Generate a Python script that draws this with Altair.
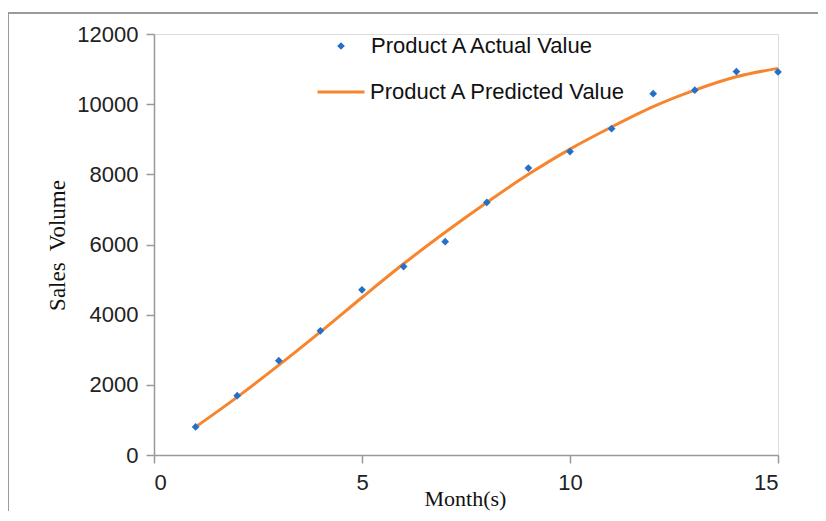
import altair as alt
import pandas as pd

months = list(range(1, 16))
actual = [800, 1690, 2690, 3540, 4710, 5370, 6080, 7200, 8180, 8650, 9300, 10300, 10400, 10930, 10920]
predicted = [800, 1650, 2560, 3510, 4490, 5450, 6350, 7200, 8000, 8720, 9350, 9930, 10400, 10780, 11020]

actual_label = "Product A Actual Value"
pred_label = "Product A Predicted Value"

df_a = pd.DataFrame({"month": months, "value": actual, "series": actual_label})
df_p = pd.DataFrame({"month": months, "value": predicted, "series": pred_label})

BLUE = "#2470C8"
ORANGE = "#F7852E"
AXIS_GRAY = "#999999"

x_enc = alt.X(
    "month:Q",
    scale=alt.Scale(domain=[0, 15], nice=False, zero=True),
    axis=alt.Axis(
        values=[0, 5, 10, 15], title="Month(s)", grid=False, format="d",
        domainColor=AXIS_GRAY, tickColor=AXIS_GRAY, tickSize=8, domainWidth=1.5, tickWidth=1.5,
        labelFont="Liberation Sans", labelFontSize=22, labelColor="#222222", labelPadding=9,
        titleFont="Liberation Serif", titleFontSize=22, titleFontWeight="normal", titleColor="#111111",
        titleX=311, titleY=43, titleBaseline="middle", titleAlign="center",
    ),
)
y_enc = alt.Y(
    "value:Q",
    scale=alt.Scale(domain=[0, 12000], nice=False),
    axis=alt.Axis(
        values=[0, 2000, 4000, 6000, 8000, 10000, 12000], title="Sales\u00a0 Volume", grid=False, format="d",
        domainColor=AXIS_GRAY, tickColor=AXIS_GRAY, tickSize=8, domainWidth=1.5, tickWidth=1.5,
        labelFont="Liberation Sans", labelFontSize=22, labelColor="#222222", labelPadding=8,
        titleFont="Liberation Serif", titleFontSize=23, titleFontWeight="normal", titleColor="#111111",
        titleX=-97, titleY=211, titleAngle=-90, titleAlign="center", titleBaseline="middle",
    ),
)

line = alt.Chart(df_p).mark_line(strokeWidth=3, interpolate="monotone").encode(
    x=x_enc,
    y=y_enc,
    color=alt.Color(
        "series:N",
        scale=alt.Scale(domain=[pred_label], range=[ORANGE]),
        legend=alt.Legend(
            title=None, orient="none", legendX=162, legendY=33, padding=0,
            symbolType="stroke", symbolSize=2209, symbolStrokeWidth=3, labelOffset=4, labelLimit=0,
            labelFont="Liberation Sans", labelFontSize=22, labelColor="#111111",
        ),
    ),
)

points = alt.Chart(df_a).mark_point(shape="diamond", filled=True, size=60, opacity=1).encode(
    x="month:Q",
    y="value:Q",
    shape=alt.Shape(
        "series:N",
        scale=alt.Scale(domain=[actual_label], range=["diamond"]),
        legend=alt.Legend(
            title=None, orient="none", legendX=176, legendY=1, padding=0,
            symbolSize=60, symbolFillColor=BLUE, symbolStrokeColor=BLUE, symbolStrokeWidth=0,
            labelOffset=19, labelLimit=0, labelFont="Liberation Sans", labelFontSize=22, labelColor="#111111",
        ),
    ),
    color=alt.value(BLUE),
)

border_top = alt.Chart(df_a).mark_rule(color="#9a9a9a", strokeWidth=2).encode(
    x=alt.value(-146), x2=alt.value(700), y=alt.value(-21)
)
border_left = alt.Chart(df_a).mark_rule(color="#9a9a9a", strokeWidth=2).encode(
    x=alt.value(-146), y=alt.value(-21), y2=alt.value(600)
)

chart = alt.layer(border_top, border_left, line, points).resolve_legend(
    color="independent", shape="independent"
).properties(
    width=624, height=421,
    autosize=alt.AutoSizeParams(type="none"),
    padding={"left": 146, "top": 26, "right": 40, "bottom": 56},
).configure_view(stroke=None).configure(background="white")

chart.save("out.html", embed_options={"renderer": "svg", "actions": False})
